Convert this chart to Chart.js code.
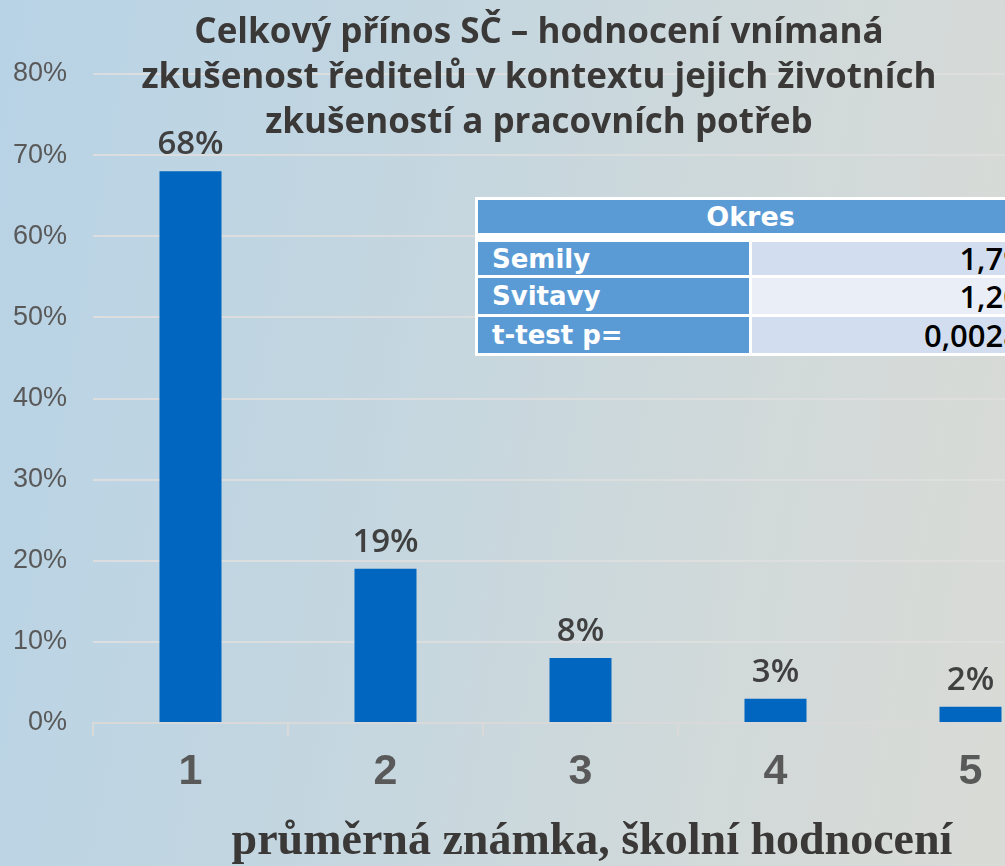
<!DOCTYPE html>
<html lang="cs">
<head>
<meta charset="utf-8">
<title>Celkový přínos SČ</title>
<script src="https://cdn.jsdelivr.net/npm/chart.js@4.4.1/dist/chart.umd.min.js"></script>
<style>
  html, body { margin: 0; padding: 0; overflow: hidden; width: 1005px; height: 866px; }
  #wrap {
    position: absolute; left: 0; top: 0; width: 1078px; height: 866px;
    background: linear-gradient(100deg, #b8d3e6 0%, #c3d6e0 35%, #d0d9da 65%, #dbdbd5 100%);
  }
  #chart { position: absolute; left: 0; top: 0; }
  #title {
    position: absolute; left: 0; top: 7px; width: 1078px; text-align: center;
    font-family: "Open Sans", sans-serif; font-weight: 700; font-size: 35px; line-height: 45px;
    color: #3b3838;
  }
  #xtitle {
    position: absolute; left: 92px; top: 814px; width: 1000px; text-align: center;
    font-family: "Liberation Serif", serif; font-weight: bold; font-size: 46px; line-height: 50px;
    color: #3b3838; white-space: nowrap;
  }
  #stats {
    position: absolute; left: 475px; top: 197px; background: #fff;
    border-collapse: separate; border-spacing: 3px; table-layout: fixed; width: 551px;
  }
  #stats td { padding: 0; box-sizing: border-box; line-height: 1; white-space: nowrap; }
  #stats .head {
    height: 39px; border-bottom: 6px solid #fff; background: #5b9bd5; color: #fff; text-align: center;
    font-family: "DejaVu Sans", sans-serif; font-weight: bold; font-size: 27px;
  }
  #stats .name {
    width: 267px; background: #5b9bd5; color: #fff; padding-left: 14px;
    font-family: "DejaVu Sans", sans-serif; font-weight: bold; font-size: 26px;
  }
  #stats .val {
    width: 272px; text-align: right; padding-right: 2px; color: #000;
    font-family: "Open Sans", sans-serif; font-weight: 600; font-size: 31px;
  }
</style>
</head>
<body>
<div id="wrap">
  <canvas id="chart" width="1078" height="866"></canvas>
  <div id="title">Celkový přínos SČ – hodnocení vnímaná<br>zkušenost ředitelů v kontextu jejich životních<br>zkušeností a pracovních potřeb</div>
  <div id="xtitle"></div>
  <table id="stats">
    <tr><td class="head" colspan="2">Okres</td></tr>
    <tr style="height:33px"><td class="name">Semily</td><td class="val" style="background:#d2deef">1,79</td></tr>
    <tr style="height:36px"><td class="name">Svitavy</td><td class="val" style="background:#eaeff7">1,20</td></tr>
    <tr style="height:36px"><td class="name">t-test p=</td><td class="val" style="background:#d2deef">0,0028</td></tr>
  </table>
</div>
<script>
// grades (1 = best) and share of answers in %
const categories = ['1', '2', '3', '4', '5'];
const shares = [68, 19, 8, 3, 2];
const yMax = 80;
const yStep = 10;
const xTitle = 'průměrná známka, školní hodnocení';

// value labels above bars
const barLabels = {
    id: 'barLabels',
    afterDatasetsDraw(chart) {
        const ctx = chart.ctx;
        const meta = chart.getDatasetMeta(0);
        ctx.save();
        ctx.font = '600 33px "Open Sans"';
        ctx.fillStyle = '#404040';
        ctx.textAlign = 'center';
        ctx.textBaseline = 'alphabetic';
        meta.data.forEach((bar, i) => {
            ctx.fillText(shares[i] + '%', bar.x, bar.y - 17);
        });
        ctx.restore();
    }
};

document.addEventListener('DOMContentLoaded', function () {
    document.getElementById('xtitle').textContent = xTitle;
    const ctx = document.getElementById('chart');
    new Chart(ctx, {
        type: 'bar',
        data: {
            labels: categories,
            datasets: [{
                data: shares,
                backgroundColor: '#0066bf',
                borderWidth: 0,
                categoryPercentage: 1,
                barPercentage: 0.318
            }]
        },
        options: {
            responsive: false,
            animation: false,
            layout: { padding: { top: 74, right: 10, left: 0, bottom: 0 } },
            plugins: {
                legend: { display: false },
                tooltip: { enabled: false }
            },
            scales: {
                x: {
                    offset: true,
                    afterFit(scale) { scale.height = 143; },
                    border: { display: true, color: '#d9d9d9', width: 2 },
                    grid: { offset: true, drawOnChartArea: false, drawTicks: true, tickLength: 13, color: '#d9d9d9', lineWidth: 2 },
                    ticks: {
                        padding: 10,
                        color: '#595959',
                        font: { family: 'Liberation Sans', size: 43, weight: 'bold' }
                    }
                },
                y: {
                    min: 0,
                    max: yMax,
                    afterFit(scale) { scale.width = 93; },
                    border: { display: false },
                    grid: { drawTicks: false, color: 'rgba(222,222,222,0.9)', lineWidth: 2 },
                    ticks: {
                        stepSize: yStep,
                        padding: 26,
                        color: '#595959',
                        font: { family: 'Liberation Sans', size: 27 },
                        callback: v => v + '%'
                    }
                }
            }
        },
        plugins: [barLabels]
    });
});
</script>
</body>
</html>
